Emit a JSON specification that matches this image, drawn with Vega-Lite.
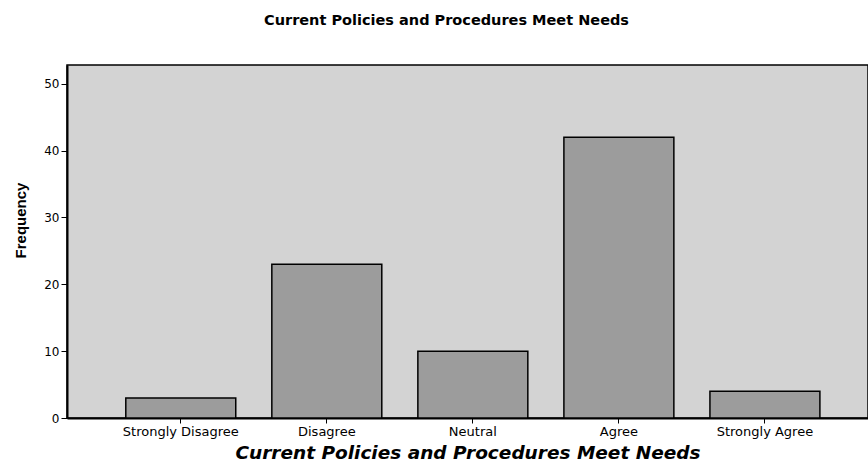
{
  "$schema": "https://vega.github.io/schema/vega-lite/v6.json",
  "autosize": {"type": "none"},
  "width": 801,
  "height": 353,
  "padding": {"left": 67, "top": 65, "right": 0, "bottom": 47},
  "background": "white",
  "title": {
    "text": "Current Policies and Procedures Meet Needs",
    "font": "DejaVu Sans",
    "fontSize": 14.5,
    "fontWeight": "bold",
    "color": "black",
    "anchor": "middle",
    "dx": -21,
    "offset": 37
  },
  "data": {
    "values": [
      {"response": "Strongly Disagree", "frequency": 3},
      {"response": "Disagree", "frequency": 23},
      {"response": "Neutral", "frequency": 10},
      {"response": "Agree", "frequency": 42},
      {"response": "Strongly Agree", "frequency": 4}
    ]
  },
  "mark": {"type": "bar", "fill": "#9c9c9c", "stroke": "black", "strokeWidth": 1.5},
  "encoding": {
    "x": {
      "field": "response",
      "type": "nominal",
      "sort": null,
      "scale": {"paddingInner": 0.247, "paddingOuter": 0.366, "align": 0.55},
      "axis": {
        "title": "Current Policies and Procedures Meet Needs",
        "titleFont": "DejaVu Sans",
        "titleFontSize": 18.5,
        "titleFontWeight": "bold",
        "titleFontStyle": "italic",
        "titleColor": "black",
        "titlePadding": 5,
        "titleDx": 7,
        "labelAngle": 0,
        "labelFont": "DejaVu Sans",
        "labelFontSize": 13,
        "labelColor": "black",
        "labelPadding": 2,
        "tickColor": "black",
        "tickSize": 5,
        "domainColor": "black",
        "domainWidth": 2,
        "grid": false
      }
    },
    "y": {
      "field": "frequency",
      "type": "quantitative",
      "scale": {"domain": [0, 52.8], "nice": false},
      "axis": {
        "title": "Frequency",
        "titleFont": "Liberation Sans Narrow, Liberation Sans",
        "titleFontSize": 15,
        "titleFontWeight": "bold",
        "titleColor": "black",
        "titlePadding": 15,
        "titleY": 155,
        "titleAlign": "center",
        "values": [0, 10, 20, 30, 40, 50],
        "labelFont": "DejaVu Sans",
        "labelFontSize": 12,
        "labelColor": "black",
        "labelPadding": 2,
        "tickColor": "black",
        "tickSize": 6,
        "domainColor": "black",
        "domainWidth": 2,
        "grid": false
      }
    }
  },
  "config": {
    "view": {"fill": "#d3d3d3", "stroke": "black", "strokeWidth": 1.5}
  }
}
